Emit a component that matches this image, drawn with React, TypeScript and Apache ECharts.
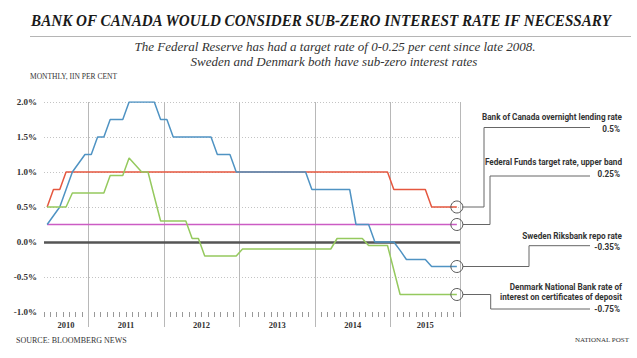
import React, { useEffect, useRef } from "react";
import * as echarts from "echarts";

// ---------- DATA ----------
const years = ["2010", "2011", "2012", "2013", "2014", "2015"];
const firstMonthOfYear = [6, 1, 1, 1, 1, 1];
const lastMonthOfYear = [12, 12, 12, 12, 12, 11];

const yTickValues = [-1, -0.5, 0, 0.5, 1, 1.5, 2];

// Bank of Canada overnight lending rate (monthly, Jun 2010 - Nov 2015)
const bocRate = [
  0.5, 0.75, 0.75,
  1, 1, 1, 1, 1, 1, 1, 1, 1, 1, 1, 1, 1, 1, 1, 1, 1, 1, 1, 1, 1, 1, 1, 1, 1, 1,
  1, 1, 1, 1, 1, 1, 1, 1, 1, 1, 1, 1, 1, 1, 1, 1, 1, 1, 1, 1, 1, 1, 1, 1, 1, 1,
  0.75, 0.75, 0.75, 0.75, 0.75, 0.75,
  0.5, 0.5, 0.5, 0.5, 0.5,
];

// Federal Funds target rate, upper band
const fedRate = [
  0.25, 0.25, 0.25, 0.25, 0.25, 0.25, 0.25, 0.25, 0.25, 0.25, 0.25,
  0.25, 0.25, 0.25, 0.25, 0.25, 0.25, 0.25, 0.25, 0.25, 0.25, 0.25,
  0.25, 0.25, 0.25, 0.25, 0.25, 0.25, 0.25, 0.25, 0.25, 0.25, 0.25,
  0.25, 0.25, 0.25, 0.25, 0.25, 0.25, 0.25, 0.25, 0.25, 0.25, 0.25,
  0.25, 0.25, 0.25, 0.25, 0.25, 0.25, 0.25, 0.25, 0.25, 0.25, 0.25,
  0.25, 0.25, 0.25, 0.25, 0.25, 0.25, 0.25, 0.25, 0.25, 0.25, 0.25,
];

// Sweden Riksbank repo rate
const riksbankRate = [
  0.25, 0.375, 0.5, 0.75, 1, 1.125, 1.25, 1.25, 1.5, 1.5, 1.75, 1.75, 1.75,
  2, 2, 2, 2, 2, 1.75, 1.75, 1.5,
  1.5, 1.5, 1.5, 1.5, 1.5, 1.5,
  1.25, 1.25, 1.25,
  1, 1, 1, 1, 1, 1, 1, 1, 1, 1, 1, 1,
  0.75, 0.75, 0.75, 0.75, 0.75, 0.75, 0.75,
  0.25, 0.25, 0.25,
  0, 0, 0, 0,
  -0.12,
  -0.25, -0.25, -0.25, -0.25,
  -0.35, -0.35, -0.35, -0.35, -0.35,
];

// Denmark National Bank rate of interest on certificates of deposit
const denmarkRate = [
  0.5, 0.5, 0.5, 0.5,
  0.7, 0.7, 0.7, 0.7, 0.7, 0.7,
  0.95, 0.95, 0.95,
  1.2, 1.1, 1, 1, 0.65,
  0.3, 0.3, 0.3, 0.3, 0.3,
  0.05, 0.05,
  -0.2, -0.2, -0.2, -0.2, -0.2, -0.2,
  -0.1, -0.1, -0.1, -0.1, -0.1, -0.1, -0.1, -0.1, -0.1, -0.1, -0.1, -0.1, -0.1, -0.1, -0.1,
  0.05, 0.05, 0.05, 0.05, 0.05,
  -0.05, -0.05, -0.05, -0.05,
  -0.4,
  -0.75, -0.75, -0.75, -0.75, -0.75, -0.75, -0.75, -0.75, -0.75, -0.75,
];

const seriesNames = [
  "Bank of Canada overnight lending rate",
  "Federal Funds target rate, upper band",
  "Sweden Riksbank repo rate",
  "Denmark National Bank rate of interest on certificates of deposit",
];
const seriesValues = [bocRate, fedRate, riksbankRate, denmarkRate];
const seriesColors = ["#e5573f", "#cc5cc4", "#4f93c3", "#95c95e"];
const annotationLines = [
  ["Bank of Canada overnight lending rate"],
  ["Federal Funds target rate, upper band"],
  ["Sweden Riksbank repo rate"],
  ["Denmark National Bank rate of", "interest on certificates of deposit"],
];
const annotationValues = ["0.5%", "0.25%", "-0.35%", "-0.75%"];

// ---------- derived categories ----------
const months: string[] = [];
const yearCenters: number[] = [];
const yearStarts: number[] = [];
years.forEach((y, i) => {
  const start = months.length;
  for (let m = firstMonthOfYear[i]; m <= lastMonthOfYear[i]; m++) {
    months.push(`${y}-${m < 10 ? "0" + m : m}`);
  }
  const count = months.length - start;
  yearCenters.push(start + count / 2);
  if (i > 0) yearStarts.push(start);
});

// ---------- layout ----------
const W = 637;
const H = 358;
const GRID = { left: 44, right: 177, top: 102, bottom: 46 };
const ANN_RIGHT = 622;
const ANN_LINE_END = 590;
const annLayout = [
  { elbowX: 484, lineY: 127.5, descY: [116.7], valueY: 128.3 },
  { elbowX: 490, lineY: 176, descY: [161.7], valueY: 173.5 },
  { elbowX: 529, lineY: 245.7, descY: [236], valueY: 246.5 },
  { elbowX: 490.7, lineY: 309, descY: [286.7, 296.5], valueY: 309 },
];

const serif = "Liberation Serif, serif";
const sans = "Roboto, Liberation Sans, sans-serif";

function baseGraphics(): any[] {
  return [
    {
      type: "text",
      id: "title",
      x: 321,
      y: 20,
      scaleX: 0.89,
      style: {
        text: "BANK OF CANADA WOULD CONSIDER SUB-ZERO INTEREST RATE IF NECESSARY",
        fontFamily: serif,
        fontWeight: "bold",
        fontStyle: "italic",
        fontSize: 17,
        fill: "#1a1a1a",
        align: "center",
        verticalAlign: "middle",
      },
    },
    {
      type: "line",
      id: "rule",
      shape: { x1: 30, y1: 36.5, x2: 631, y2: 36.5 },
      style: { stroke: "#b5b5b5", lineWidth: 1 },
    },
    {
      type: "text",
      id: "sub1",
      x: 335,
      y: 46,
      style: {
        text: "The Federal Reserve has had a target rate of 0-0.25 per cent since late 2008.",
        fontFamily: serif,
        fontStyle: "italic",
        fontSize: 13,
        fill: "#333",
        align: "center",
        verticalAlign: "middle",
      },
    },
    {
      type: "text",
      id: "sub2",
      x: 334,
      y: 61,
      style: {
        text: "Sweden and Denmark both have sub-zero interest rates",
        fontFamily: serif,
        fontStyle: "italic",
        fontSize: 13,
        fill: "#333",
        align: "center",
        verticalAlign: "middle",
      },
    },
    {
      type: "text",
      id: "unit",
      x: 30,
      y: 76,
      style: {
        text: "MONTHLY, IIN PER CENT",
        fontFamily: serif,
        fontSize: 7.5,
        fill: "#333",
        align: "left",
        verticalAlign: "middle",
      },
    },
    {
      type: "text",
      id: "source",
      x: 16,
      y: 340,
      style: {
        text: "SOURCE: BLOOMBERG NEWS",
        fontFamily: serif,
        fontSize: 8,
        fill: "#333",
        align: "left",
        verticalAlign: "middle",
      },
    },
    {
      type: "text",
      id: "np",
      x: 629,
      y: 340,
      style: {
        text: "NATIONAL POST",
        fontFamily: serif,
        fontSize: 7,
        fill: "#333",
        align: "right",
        verticalAlign: "middle",
      },
    },
  ];
}

export default function App() {
  const ref = useRef<HTMLDivElement>(null);

  useEffect(() => {
    if (!ref.current) return;
    const chart = echarts.init(ref.current, null, { renderer: "svg" });

    const gridColors = yTickValues.map((v, i) => (i === 0 ? "rgba(0,0,0,0)" : "#c4c4c4"));

    const series: any[] = seriesValues.map((vals, i) => ({
      type: "line",
      name: seriesNames[i],
      data: vals,
      symbol: "none",
      lineStyle: { color: seriesColors[i], width: 1.5 },
      itemStyle: { color: seriesColors[i] },
      z: 3 + i,
      silent: true,
    }));
    series[1].markLine = {
      silent: true,
      symbol: ["none", "none"],
      label: { show: false },
      lineStyle: { color: "#555", width: 2.5, type: "solid" },
      data: [{ yAxis: 0 }],
      z: 2,
    };

    chart.setOption({
      animation: false,
      backgroundColor: "#fff",
      grid: { ...GRID },
      xAxis: [
        {
          type: "category",
          data: months,
          boundaryGap: true,
          position: "bottom",
          axisLine: { show: false, onZero: false },
          axisTick: { show: true, interval: 0, length: 5, lineStyle: { color: "#999", width: 1 } },
          axisLabel: { show: false },
          splitLine: {
            show: true,
            interval: (idx: number, val: string) => val.endsWith("-01"),
            lineStyle: { color: "#b8b8b8", width: 1 },
          },
        },
        {
          type: "value",
          min: 0,
          max: months.length,
          position: "bottom",
          axisLine: { show: false, onZero: false },
          axisTick: {
            show: true,
            customValues: yearStarts,
            length: 15,
            lineStyle: { color: "#b8b8b8", width: 1 },
          },
          axisLabel: {
            show: true,
            customValues: yearCenters,
            formatter: (v: number) => {
              const k = yearCenters.findIndex((c) => Math.abs(c - v) < 0.01);
              return k >= 0 ? years[k] : "";
            },
            margin: 8,
            fontFamily: serif,
            fontWeight: "bold",
            fontSize: 8.5,
            color: "#333",
          },
          splitLine: { show: false },
        },
      ],
      yAxis: {
        type: "value",
        min: -1,
        max: 2,
        interval: 0.5,
        axisLine: { show: false },
        axisTick: { show: false },
        axisLabel: {
          formatter: (v: number) => v.toFixed(1) + "%",
          fontFamily: serif,
          fontWeight: "bold",
          fontSize: 9,
          color: "#333",
          margin: 7,
        },
        splitLine: { show: true, lineStyle: { color: gridColors, type: [1, 2], width: 1 } },
      },
      series,
      graphic: baseGraphics(),
    });

    const extra: any[] = [];
    seriesValues.forEach((vals, i) => {
      const last = vals.length - 1;
      const p = chart.convertToPixel({ xAxisIndex: 0, yAxisIndex: 0 }, [last, vals[last]]) as number[];
      const L = annLayout[i];
      extra.push({
        type: "polyline",
        id: "conn" + i,
        shape: {
          points: [
            [p[0] + 6, p[1]],
            [L.elbowX, p[1]],
            [L.elbowX, L.lineY],
            [ANN_LINE_END, L.lineY],
          ],
        },
        style: { stroke: "#666", lineWidth: 1, fill: null },
        z: 10,
      });
      extra.push({
        type: "circle",
        id: "circ" + i,
        shape: { cx: p[0], cy: p[1], r: 6 },
        style: { stroke: "#555", lineWidth: 1, fill: "rgba(255,255,255,0)" },
        z: 10,
      });
      annotationLines[i].forEach((t, j) => {
        extra.push({
          type: "text",
          id: `desc${i}_${j}`,
          x: ANN_RIGHT,
          y: L.descY[j],
          scaleX: 0.86,
          style: {
            text: t,
            fontFamily: sans,
            fontWeight: "bold",
            fontSize: 9.5,
            fill: "#333",
            align: "right",
            verticalAlign: "middle",
          },
          z: 10,
        });
      });
      extra.push({
        type: "text",
        id: "val" + i,
        x: ANN_RIGHT - 2,
        y: L.valueY,
        scaleX: 0.86,
        style: {
          text: annotationValues[i],
          fontFamily: sans,
          fontWeight: "bold",
          fontSize: 9.5,
          fill: "#333",
          align: "right",
          verticalAlign: "middle",
        },
        z: 10,
      });
    });

    chart.setOption({ graphic: [...baseGraphics(), ...extra] });

    return () => chart.dispose();
  }, []);

  return (
    <div
      ref={ref}
      style={{ position: "absolute", left: 0, top: 0, width: W, height: H, background: "#fff" }}
    />
  );
}
